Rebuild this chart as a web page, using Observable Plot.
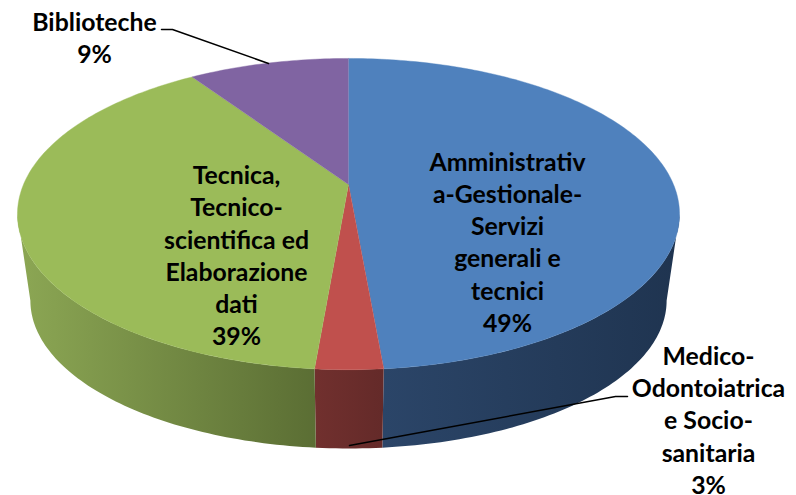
<!DOCTYPE html>
<html><head><meta charset="utf-8">
<script src="https://cdn.jsdelivr.net/npm/d3@7"></script>
<script src="https://cdn.jsdelivr.net/npm/@observablehq/plot@0.6"></script>
<style>html,body{margin:0;padding:0;background:#fff}svg{display:block}</style>
</head><body><div id="chart"></div>
<script>
// data
const categories = ["Amministrativa-Gestionale-Servizi generali e tecnici", "Medico-Odontoiatrica e Socio-sanitaria", "Tecnica, Tecnico-scientifica ed Elaborazione dati", "Biblioteche"];
const shares = [48.6, 2.75, 39.25, 9.4];
const labelTexts = [
  "Amministrativ\na-Gestionale-\nServizi\ngenerali e\ntecnici",
  "Medico-\nOdontoiatrica\ne Socio-\nsanitaria",
  "Tecnica,\nTecnico-\nscientifica ed\nElaborazione\ndati",
  "Biblioteche"
];
const topColors = ["#4f81bd", "#c0504d", "#9bbb59", "#8064a2"];
const wallNear = ["#2b4568", "#71302e", "#5b6e34", "#4c3c62"];
const wallFar = ["#1f3450", "#642a29", "#8ca754", "#4c3c62"];

// perspective model of the pie, unit circle -> plane
const W = 796, H = 495, cx = 348, cy = 184, ax = 325, ay = 150, k = 0.19, wallScale = 0.961, wallDrop = -0.587;
const xDomain = [(0 - cx) / ax, (W - cx) / ax], yDomain = [cy / ay, (cy - H) / ay];
const project = a => {
  const u = Math.sin(a), v = Math.cos(a), w = 1 + k * v;
  return [u / w, v / w];
};
const at = (px, py) => [(px - cx) / ax, (cy - py) / ay];
const total = d3.sum(shares);
const ends = d3.cumsum(shares);
// the side wall is visible only between the two silhouette tangents of the ellipse
const wallStart = Math.acos(-k), wallEnd = 2 * Math.PI - wallStart;
const arcPoints = (a0, a1) => {
  const n = Math.max(4, Math.ceil((a1 - a0) / (Math.PI / 180)));
  return d3.range(n + 1).map(j => project(a0 + (a1 - a0) * j / n));
};

const topRows = [], wallRows = [], gradientDefs = [];
shares.forEach((s, i) => {
  const a0 = 2 * Math.PI * (ends[i] - s) / total, a1 = 2 * Math.PI * ends[i] / total;
  const key = categories[i];
  topRows.push({x: 0, y: 0, key, color: topColors[i]});
  arcPoints(a0, a1).forEach(([X, Y]) => topRows.push({x: X, y: Y, key, color: topColors[i]}));
  const w0 = Math.max(a0, wallStart), w1 = Math.min(a1, wallEnd);
  if (w1 <= w0) return;
  const gid = "wall" + i, color = `url(#${gid})`;
  const arc = arcPoints(w0, w1);
  arc.forEach(([X, Y]) => wallRows.push({x: X, y: Y, key, color}));
  arc.slice().reverse().forEach(([X, Y]) => wallRows.push({x: X * wallScale, y: Y * 0.95 + wallDrop, key, color}));
  // near edge is the bottom-most side of the slice's wall, far edge the outer side
  const near = Math.abs(arc[0][0]) < Math.abs(arc[arc.length - 1][0]) ? arc[0][0] : arc[arc.length - 1][0];
  const far = Math.abs(arc[0][0]) < Math.abs(arc[arc.length - 1][0]) ? arc[arc.length - 1][0] : arc[0][0];
  gradientDefs.push({gid, x1: near, x2: far, from: wallNear[i], to: wallFar[i]});
});

const pct = s => Math.round(s) + "%";
const labelAnchors = [at(507, 240.5), at(708, 418.5), at(236, 254), at(94, 36)];
const labels = labelTexts.map((t, i) => ({x: labelAnchors[i][0], y: labelAnchors[i][1], text: t + "\n" + pct(shares[i])}));

const leaders = [
  {key: "a", p: at(268, 63)}, {key: "a", p: at(172, 29)}, {key: "a", p: at(161, 29)},
  {key: "b", p: at(349, 445)}, {key: "b", p: at(615, 396)}, {key: "b", p: at(627, 396)}
].map(d => ({key: d.key, x: d.p[0], y: d.p[1]}));

// SVG gradients used by the side wall, positioned with the plot's x scale
const gradients = (index, scales) => {
  const ns = "http://www.w3.org/2000/svg";
  const defs = document.createElementNS(ns, "defs");
  for (const g of gradientDefs) {
    const el = document.createElementNS(ns, "linearGradient");
    el.setAttribute("id", g.gid);
    el.setAttribute("gradientUnits", "userSpaceOnUse");
    el.setAttribute("x1", scales.x(g.x1));
    el.setAttribute("x2", scales.x(g.x2));
    el.setAttribute("y1", 0);
    el.setAttribute("y2", 0);
    [[0, g.from], [1, g.to]].forEach(([o, c]) => {
      const st = document.createElementNS(ns, "stop");
      st.setAttribute("offset", o);
      st.setAttribute("stop-color", c);
      el.append(st);
    });
    defs.append(el);
  }
  return defs;
};

const chart = Plot.plot({
  width: W, height: H, margin: 0,
  x: {domain: xDomain, range: [0, W], axis: null},
  y: {domain: yDomain, range: [0, H], axis: null},
  style: {background: "#fff"},
  marks: [
    gradients,
    ...Array.from(d3.group(wallRows, d => d.key).values(), rows => Plot.line(rows, {x: "x", y: "y", fill: rows[0].color, stroke: "none"})),
    ...Array.from(d3.group(topRows, d => d.key).values(), rows => Plot.line(rows, {x: "x", y: "y", fill: rows[0].color, stroke: rows[0].color, strokeWidth: 0.4})),
    Plot.line(leaders, {x: "x", y: "y", z: "key", stroke: "#000", strokeWidth: 1.5}),
    Plot.text(labels, {x: "x", y: "y", text: "text", fill: "#000", fontFamily: "Lato", fontWeight: 700, fontSize: 24.8, lineHeight: 1.3, lineAnchor: "middle", textAnchor: "middle"})
  ]
});
document.getElementById("chart").append(chart);
</script></body></html>
